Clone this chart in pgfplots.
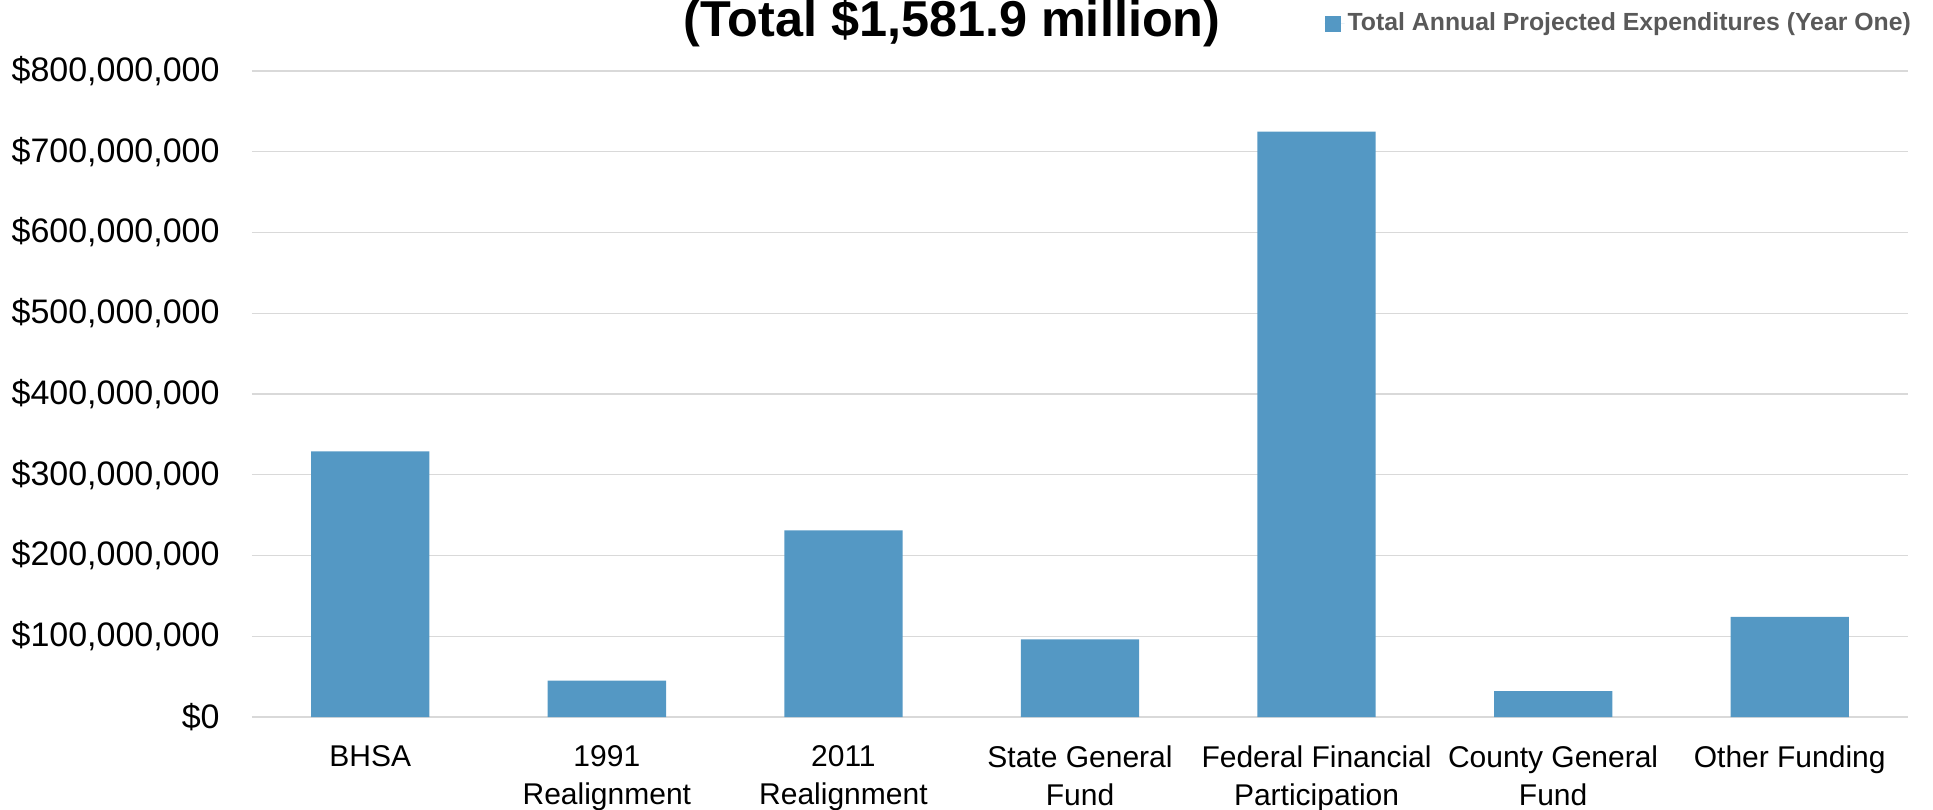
\documentclass[border=0pt]{standalone}
\usepackage{fontspec}
\setmainfont{Liberation Sans}
\usepackage{pgfplots}
\pgfplotsset{compat=1.18}
\definecolor{barblue}{HTML}{5498C4}
\definecolor{gridgray}{HTML}{D9D9D9}
\definecolor{legendgray}{HTML}{595959}
\begin{document}
\begin{tikzpicture}
\begin{axis}[
    at={(126pt,46pt)}, anchor=south west,
    scale only axis,
    width=828pt, height=323pt,
    ybar, bar width=0.5,
    xmin=-0.5, xmax=6.5,
    ymin=0, ymax=800000000,
    ytick={0,100000000,...,800000000},
    ymajorgrids,
    grid style={gridgray, line width=0.7pt},
    axis line style={draw=none},
    tick style={draw=none},
    xtick=data,
    xticklabels={BHSA, 1991\\Realignment, 2011\\Realignment, State General\\Fund,
        Federal Financial\\Participation, County General\\Fund, Other Funding},
    x tick label style={font=\fontsize{15}{18.7}\selectfont, align=center,
        anchor=north, inner sep=0pt, yshift=-10pt},
    scaled y ticks=false,
    yticklabel={\$\pgfmathprintnumber[fixed, precision=0, 1000 sep={,}]{\tick}},
    y tick label style={font=\fontsize{17}{19}\selectfont, anchor=east,
        inner sep=0pt, xshift=-16pt, /pgf/number format/assume math mode=true},
    legend style={at={(0.6475,1.0735)}, anchor=west, draw=none, fill=none,
        inner sep=0pt, font=\bfseries\fontsize{12.4}{14}\selectfont,
        text=legendgray, nodes={inner sep=1.5pt}},
    legend image code/.code={\fill[#1] (0pt,-4pt) rectangle (8pt,4pt);
        \path (0pt,0pt) -- (10pt,0pt);},
]
\addplot[fill=barblue, draw=none] coordinates {
    (0,329000000) (1,45000000) (2,231000000) (3,96000000)
    (4,725000000) (5,32000000) (6,124000000)};
\addlegendentry{Total Annual Projected Expenditures (Year One)}
\end{axis}
\node[anchor=base, font=\bfseries\fontsize{25.2}{29}\selectfont] at (476pt,386pt)
    {(Total \$1,581.9 million)};
\pgfresetboundingbox
\useasboundingbox (0,0) rectangle (966.5pt,404.5pt);
\end{tikzpicture}
\end{document}
